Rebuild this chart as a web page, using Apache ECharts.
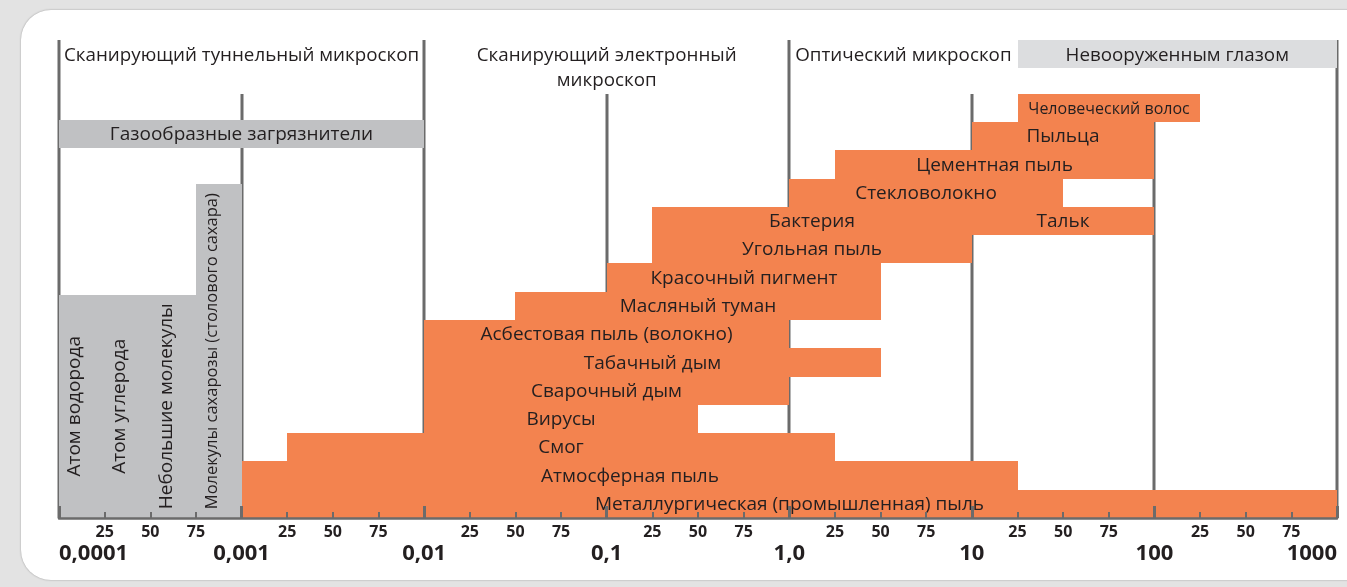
<!DOCTYPE html>
<html><head><meta charset="utf-8">
<script src="https://cdn.jsdelivr.net/npm/echarts@6/dist/echarts.min.js"></script>
<style>
html,body{margin:0;padding:0;width:1347px;height:587px;overflow:hidden;background:#e3e3e3;}
#panel{position:absolute;left:21px;top:10px;width:1400px;height:570px;background:#fff;border-radius:30px;box-shadow:0 0 2px rgba(0,0,0,0.35);}
#chart{position:absolute;left:0;top:0;width:1347px;height:587px;}
</style></head><body>
<div id="panel"></div><div id="chart"></div>
<script>
// x in decade units: 0 = 0,0001 ... 7 = 1000 ; quarters = 25/50/75
const minorTickLabels = ['25', '50', '75'];
const decadeLabels = ['0,0001', '0,001', '0,01', '0,1', '1,0', '10', '100', '1000'];
const decadeLineTop = [16.9, 15, 16.9, 15, 16.9, 15, 15, 16.9];

const particleNames = [
  'Металлургическая (промышленная) пыль', 'Атмосферная пыль', 'Смог', 'Вирусы',
  'Сварочный дым', 'Табачный дым', 'Асбестовая пыль (волокно)', 'Масляный туман',
  'Красочный пигмент', 'Угольная пыль', 'Бактерия', 'Тальк', 'Стекловолокно',
  'Цементная пыль', 'Пыльца', 'Человеческий волос'
];
const particleFrom = [1, 1, 1.25, 2, 2, 2, 2, 2.5, 3, 3.25, 3.25, 5, 4, 4.25, 5, 5.25];
const particleTo   = [7, 5.25, 4.25, 3.5, 4, 4.5, 4, 4.5, 4.5, 5, 5, 6, 5.5, 6, 6, 6.25];
const particleRow  = [0, 1, 2, 3, 4, 5, 6, 7, 8, 9, 10, 10, 11, 12, 13, 14];

const grayNames  = ['Газообразные загрязнители', '', ''];
const grayFrom   = [0, 0, 0.75];
const grayTo     = [2, 0.75, 1];
const grayBottom = [13.07, 0, 0];
const grayTop    = [14.07, 7.9, 11.8];

const moleculeNames = ['Атом водорода', 'Атом углерода', 'Небольшие молекулы', 'Молекулы сахарозы (столового сахара)'];
const moleculeX     = [0.085, 0.33, 0.59, 0.84];
const moleculeTop   = [7.9, 7.9, 7.9, 11.8];

const headerNames = ['Сканирующий туннельный микроскоп', 'Сканирующий электронный\nмикроскоп', 'Оптический микроскоп', 'Невооруженным глазом'];
const headerFrom  = [0, 2, 4, 5.25];
const headerTo    = [2, 4, 5.25, 7];
const headerBoxed = [false, false, false, true];

const FONT = '"Open Sans", "Noto Sans", sans-serif';
const TXT = '#231f20';
const LINE = '#6b6b6b';
const ORANGE = '#f3834f';
const GRAY = '#c0c1c3';
const LIGHTGRAY = '#dcdddf';
const Y_MAX = 16.9;

function textEl(x, y, text, size, extra) {
  return Object.assign({
    type: 'text', x: x, y: y,
    style: {
      text: text, fill: TXT, fontSize: size, fontFamily: FONT,
      align: 'center', verticalAlign: 'middle', textAlign: 'center', textVerticalAlign: 'middle'
    }
  }, extra || {});
}

function rectChildren(api, x0, x1, y0, y1, fill, label, size) {
  const a = api.coord([x0, y1]);
  const b = api.coord([x1, y0]);
  const x = Math.round(a[0]), y = Math.round(a[1]);
  const w = Math.round(b[0]) - x, h = Math.round(b[1]) - y;
  const kids = [{ type: 'rect', shape: { x: x, y: y, width: w, height: h }, style: { fill: fill, lineWidth: 0 } }];
  if (label) {
    let fs = size;
    if (label.length * fs * 0.56 > w - 6) fs = 16;
    kids.push(textEl(x + w / 2, y + h / 2 + 1, label, fs));
  }
  return kids;
}

const option = {
  animation: false,
  grid: { left: 59, right: 10, top: 40, bottom: 69 },
  xAxis: [
    {
      type: 'value', min: 0, max: 7, interval: 0.25, position: 'bottom', z: 10,
      axisLine: { show: true, lineStyle: { color: LINE, width: 2.5 } },
      axisTick: { show: true, inside: true, length: 6, lineStyle: { color: LINE, width: 2 } },
      splitLine: { show: false },
      axisLabel: {
        margin: 6, color: TXT, fontSize: 16, fontWeight: 'bold', fontFamily: FONT,
        formatter: function (v) { const q = Math.round(v * 4) % 4; return q === 0 ? '' : minorTickLabels[q - 1]; }
      }
    },
    {
      type: 'value', min: 0, max: 7, interval: 1, position: 'bottom', z: 11,
      axisLine: { show: false },
      axisTick: { show: true, inside: true, length: 12, lineStyle: { color: LINE, width: 3 } },
      splitLine: { show: false },
      axisLabel: {
        margin: 25, color: TXT, fontSize: 22, fontWeight: 'bold', fontFamily: FONT,
        showMinLabel: true, showMaxLabel: true, alignMinLabel: 'left', alignMaxLabel: 'right',
        formatter: function (v) { return decadeLabels[Math.round(v)]; }
      }
    }
  ],
  yAxis: { type: 'value', min: 0, max: Y_MAX, show: false, splitLine: { show: false } },
  series: [
    {
      type: 'custom', name: 'lines', z: 1, silent: true,
      data: decadeLineTop.map(function (t, i) { return [i, t]; }),
      renderItem: function (params, api) {
        const top = api.coord([api.value(0), api.value(1)]);
        const bot = api.coord([api.value(0), 0]);
        const x = Math.round(top[0]);
        return { type: 'line', shape: { x1: x, y1: Math.round(top[1]), x2: x, y2: bot[1] }, style: { stroke: LINE, lineWidth: 3 } };
      }
    },
    {
      type: 'custom', name: 'gray', z: 2, silent: true,
      data: grayFrom.map(function (f, i) { return [f, grayTo[i], grayBottom[i], grayTop[i]]; }),
      renderItem: function (params, api) {
        const i = params.dataIndex;
        return { type: 'group', children: rectChildren(api, api.value(0), api.value(1), api.value(2), api.value(3), GRAY, grayNames[i], 19) };
      }
    },
    {
      type: 'custom', name: 'header', z: 2, silent: true,
      data: headerFrom.map(function (f, i) { return [f, headerTo[i]]; }),
      renderItem: function (params, api) {
        const i = params.dataIndex;
        const a = api.coord([api.value(0), Y_MAX]);
        const b = api.coord([api.value(1), Y_MAX - 1]);
        const kids = [];
        if (headerBoxed[i]) kids.push({ type: 'rect', shape: { x: Math.round(a[0]), y: Math.round(a[1]), width: Math.round(b[0] - a[0]), height: Math.round(b[1] - a[1]) }, style: { fill: LIGHTGRAY } });
        kids.push({
          type: 'text', x: (a[0] + b[0]) / 2, y: a[1] + 3,
          style: { text: headerNames[i], fill: TXT, fontSize: 18.8, fontFamily: FONT, lineHeight: 25,
            align: 'center', verticalAlign: 'top', textAlign: 'center', textVerticalAlign: 'top' }
        });
        return { type: 'group', children: kids };
      }
    },
    {
      type: 'custom', name: 'particles', z: 3, silent: true,
      data: particleFrom.map(function (f, i) { return [f, particleTo[i], particleRow[i], particleRow[i] + 1]; }),
      renderItem: function (params, api) {
        const i = params.dataIndex;
        return { type: 'group', children: rectChildren(api, api.value(0), api.value(1), api.value(2), api.value(3), ORANGE, particleNames[i], 19) };
      }
    },
    {
      type: 'custom', name: 'molecules', z: 4, silent: true,
      data: moleculeX.map(function (x, i) { return [x, moleculeTop[i]]; }),
      renderItem: function (params, api) {
        const i = params.dataIndex;
        const p = api.coord([api.value(0), api.value(1) / 2]);
        const name = moleculeNames[i];
        const fs = name.length > 25 ? 16.5 : 19;
        return textEl(p[0], p[1], name, fs, { rotation: Math.PI / 2 });
      }
    }
  ]
};

const chart = echarts.init(document.getElementById('chart'), null, { renderer: 'canvas' });
chart.setOption(option);
</script>
</body></html>
